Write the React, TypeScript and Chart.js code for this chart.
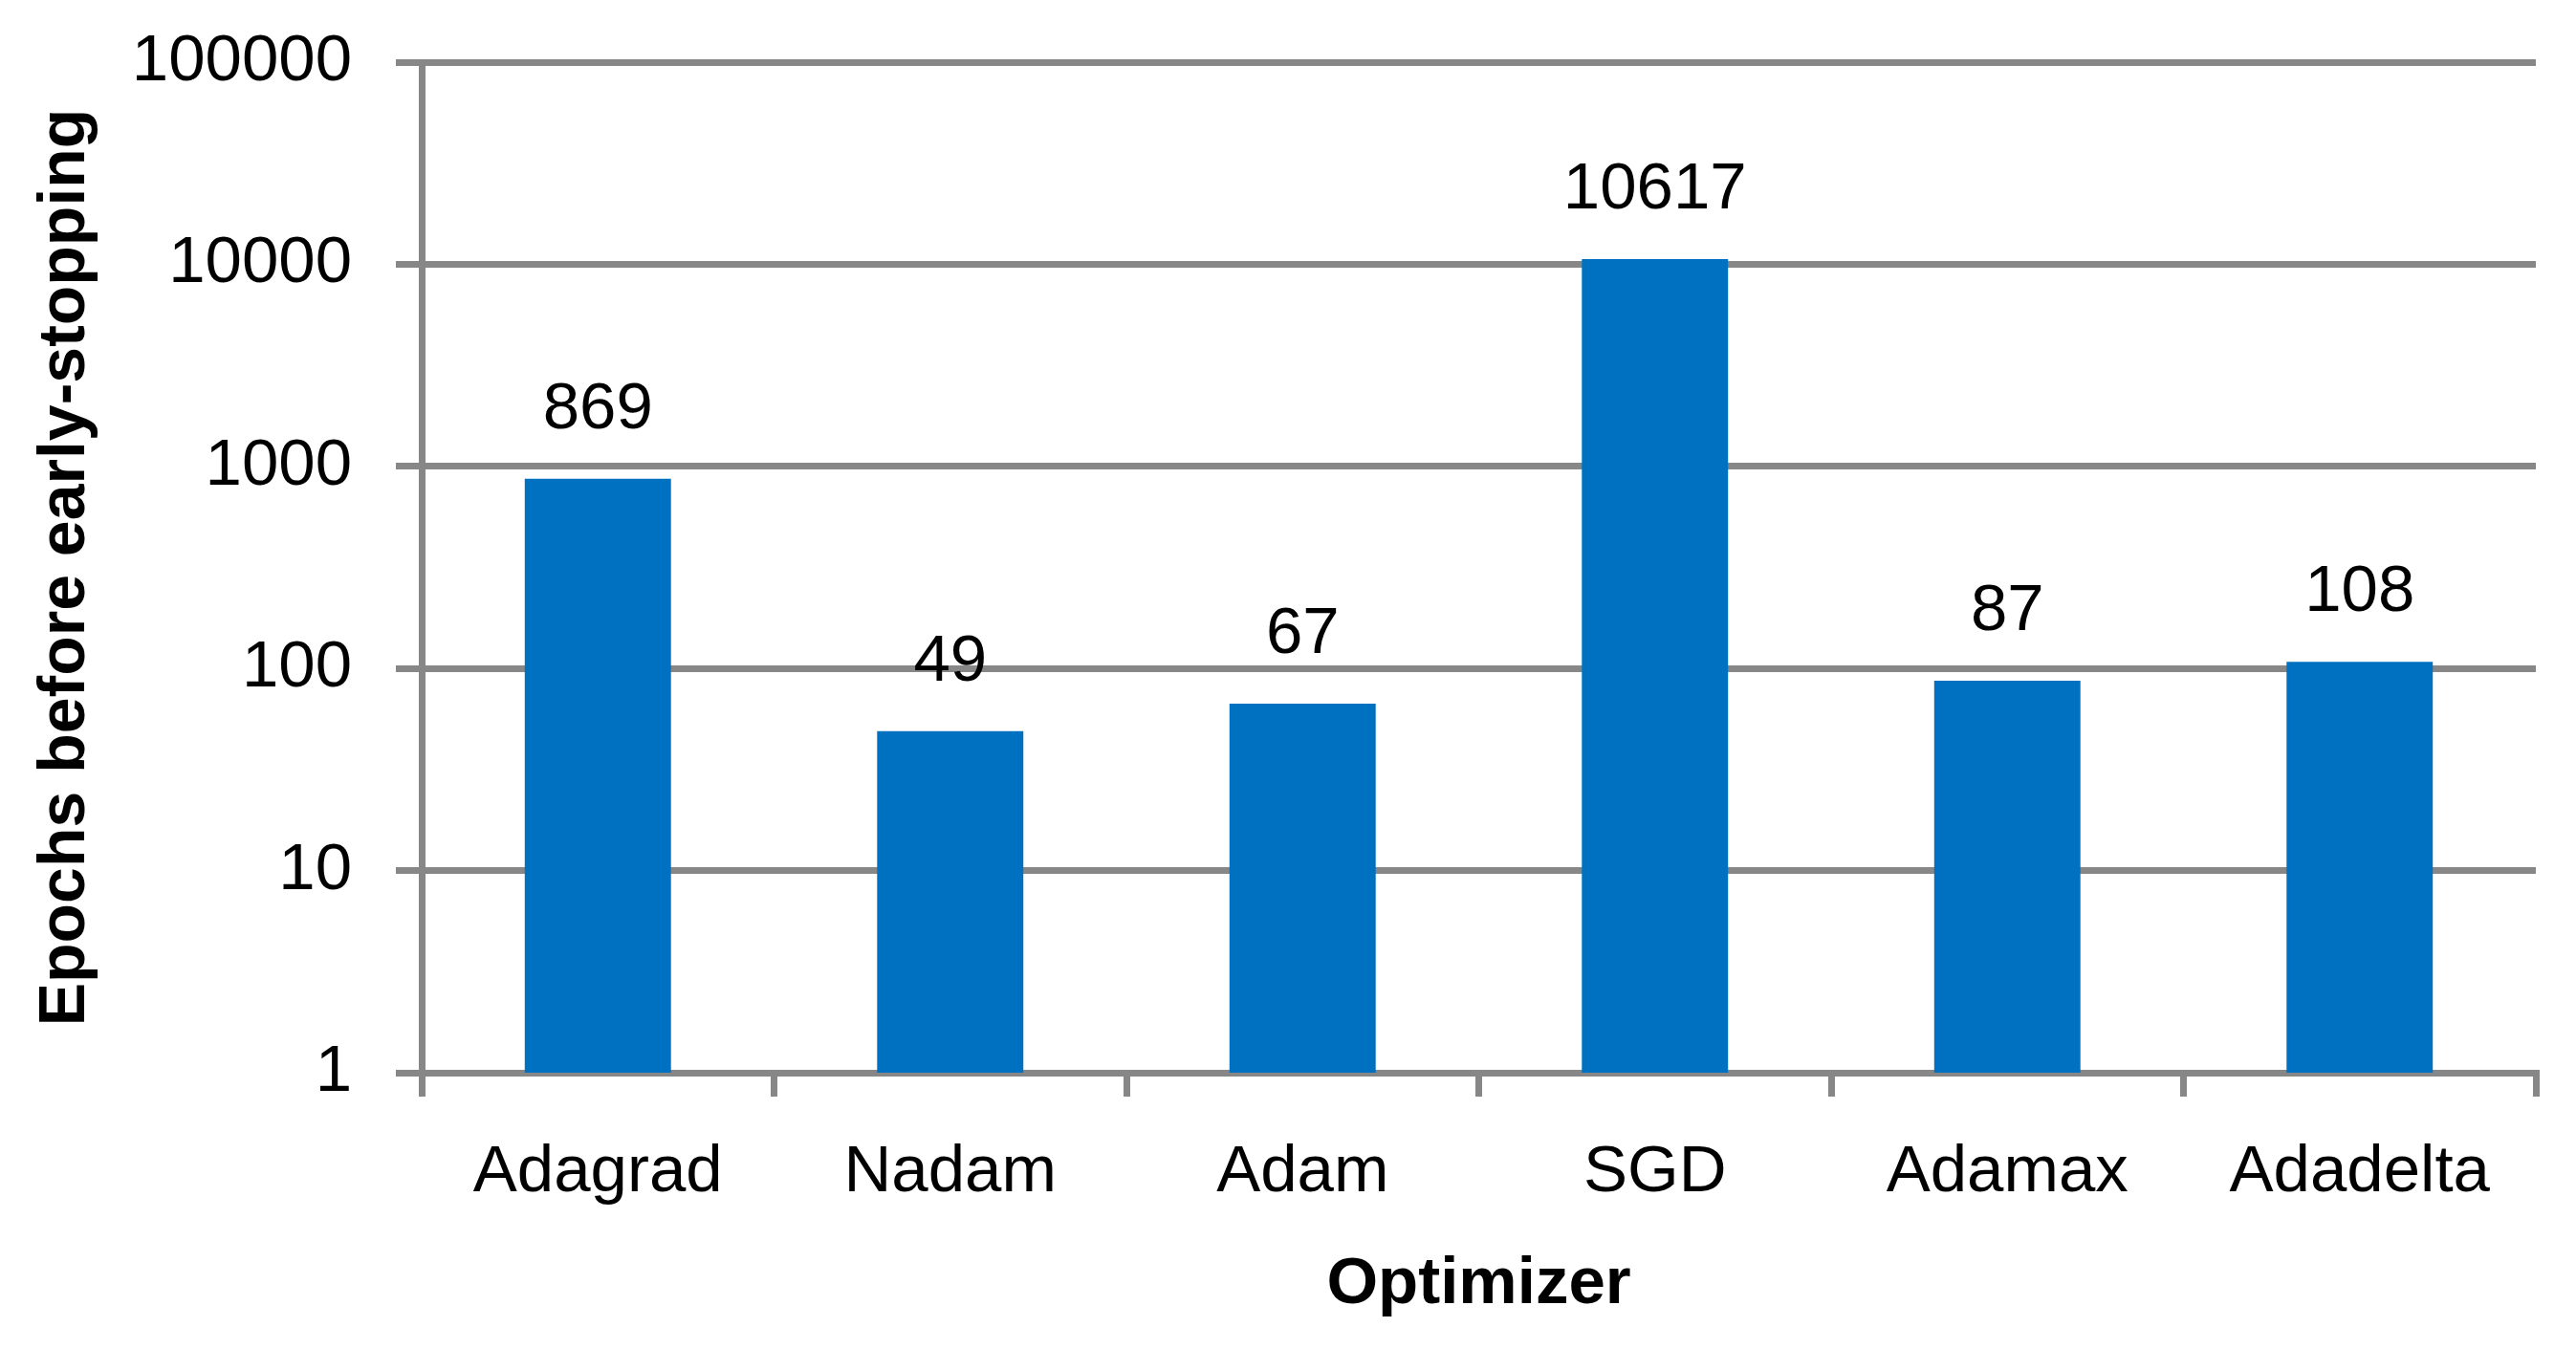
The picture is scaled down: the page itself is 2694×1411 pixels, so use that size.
import React, { useEffect, useRef } from "react";
import { Chart, registerables } from "chart.js";

Chart.register(...registerables);

const CATEGORIES = ["Adagrad", "Nadam", "Adam", "SGD", "Adamax", "Adadelta"];
const EPOCHS = [869, 49, 67, 10617, 87, 108];
const Y_TICKS = [1, 10, 100, 1000, 10000, 100000];

const FONT = "'Liberation Sans', Arial, sans-serif";
const GRID = "#878787";
const BAR = "#0070C0";

const valueLabels = {
  id: "valueLabels",
  afterDatasetsDraw(chart: any) {
    const ctx = chart.ctx;
    const meta = chart.getDatasetMeta(0);
    const data = chart.data.datasets[0].data as number[];
    ctx.save();
    ctx.font = `69px ${FONT}`;
    ctx.fillStyle = "#000";
    ctx.textAlign = "center";
    ctx.textBaseline = "alphabetic";
    meta.data.forEach((el: any, i: number) => {
      ctx.fillText(String(data[i]), el.x, el.y - 53);
    });
    ctx.restore();
  },
};

export default function App() {
  const ref = useRef<HTMLCanvasElement | null>(null);
  useEffect(() => {
    if (!ref.current) return;
    const chart = new Chart(ref.current, {
      type: "bar",
      data: {
        labels: CATEGORIES,
        datasets: [
          {
            data: EPOCHS,
            backgroundColor: BAR,
            borderWidth: 0,
            barPercentage: 0.415,
            categoryPercentage: 1,
          },
        ],
      },
      options: {
        animation: false,
        responsive: true,
        maintainAspectRatio: false,
        devicePixelRatio: 1,
        layout: { padding: { top: 65, right: 42, left: 0, bottom: 0 } },
        plugins: {
          legend: { display: false },
          tooltip: { enabled: false },
        },
        scales: {
          x: {
            grid: {
              display: true,
              offset: true,
              drawOnChartArea: false,
              drawTicks: true,
              tickLength: 25,
              color: GRID,
              lineWidth: 7,
            },
            border: { display: true, color: GRID, width: 7 },
            ticks: {
              color: "#000",
              font: { family: FONT, size: 69 },
              padding: 39,
              maxRotation: 0,
            },
            title: {
              display: true,
              text: "Optimizer",
              color: "#000",
              font: { family: FONT, size: 69, weight: "bold" },
              padding: { top: 0, bottom: 26 },
            },
            afterFit(scale: any) {
              scale.height = 289;
              scale.paddingLeft = 0;
              scale.paddingRight = 0;
            },
          },
          y: {
            type: "logarithmic",
            min: 1,
            max: 100000,
            afterBuildTicks(scale: any) {
              scale.ticks = Y_TICKS.map((v) => ({ value: v }));
            },
            grid: {
              color: GRID,
              lineWidth: 7,
              tickLength: 27,
              drawTicks: true,
            },
            border: { display: true, color: GRID, width: 7 },
            ticks: {
              color: "#000",
              font: { family: FONT, size: 69 },
              padding: 46,
              callback: (v: any) => String(v),
            },
            title: {
              display: true,
              text: "Epochs before early-stopping",
              color: "#000",
              font: { family: FONT, size: 68, weight: "bold" },
              padding: { top: 28, bottom: 0 },
            },
            afterFit(scale: any) {
              scale.width = 441;
              scale.paddingTop = 0;
              scale.paddingBottom = 0;
            },
          },
        },
      },
      plugins: [valueLabels],
    });
    return () => chart.destroy();
  }, []);
  return (
    <div style={{ position: "fixed", left: 0, top: 0, width: 2694, height: 1411, background: "#fff" }}>
      <canvas ref={ref} />
    </div>
  );
}
